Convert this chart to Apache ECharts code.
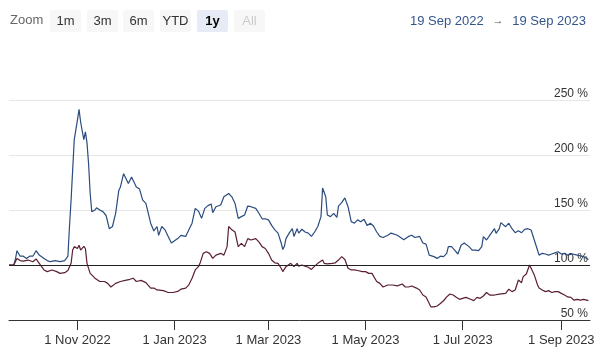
<!DOCTYPE html>
<html>
<head>
<meta charset="utf-8">
<script src="https://cdn.jsdelivr.net/npm/echarts@6/dist/echarts.min.js"></script>
<style>
html,body{margin:0;padding:0;background:#fff;}
#chart{width:600px;height:359px;}
</style>
</head>
<body>
<div id="chart"></div>
<script>
// ---- data (day offsets from 19 Sep 2022, values in % of start) ----
var startDate = Date.UTC(2022, 8, 19);
var endDate = Date.UTC(2023, 8, 19);

var blueDays = [0,3,4,5,7,9,11,13,15,17,19,22,24,26,29,32,35,37,38,39,41,42,43,44,45,47,48,49,50,51,52,54,55,57,59,61,63,65,67,69,70,72,75,77,78,80,82,84,86,89,91,93,94,96,98,100,102,104,106,108,111,113,115,117,119,121,123,125,127,128,130,133,135,136,138,140,142,144,146,148,150,152,155,157,159,161,163,165,167,169,171,172,173,174,176,178,179,181,182,184,186,188,190,192,194,196,197,199,200,202,204,206,207,209,211,213,215,217,219,221,223,225,227,229,231,233,235,238,240,244,246,248,251,253,255,258,260,262,264,267,269,271,273,275,276,278,280,282,284,286,289,291,293,295,297,298,300,302,303,305,306,308,309,312,314,316,318,320,322,324,326,328,330,332,333,335,337,339,341,343,345,347,349,351,354,357,361,364];
var blueVals = [100,100,105,113,108,108,106,108,108,113,109,106,104,103,104,103,104,108,135,159,214,214,232,241.5,230,214,221,211,192,165,148.5,150,152,150,148.5,145,133,135,147,168,171,183,174,180,180,171,169,159,156,138,131,135,127,135,132,126,120,122,124,127,126,132,138,151.5,149,142.4,151.5,154,155.5,147.6,153,154.5,162,160.6,165,162,156,142.4,144,145.5,153.6,153,151.5,147,142,142,141,136,132,129,120,114,117,124,129,133,126,133,129,132.5,130,129,126,130,135,144,170,162,145.5,144,147,143.3,153.6,156.7,161,153,139.4,138,141,139.4,141.5,136,138,135.5,130,126,125,127,129,127,125,123,126,127,125,126,120,119,109,107.6,106,108,107.6,110.6,116.7,116.7,113.6,110,118,120,116.7,113.6,113.6,113,116.7,125.8,122.7,127,125.8,133,128.8,133,138.5,134.8,138,133,129.4,131.2,129.4,132.4,133,131.8,122.7,113.6,109,110.6,110,109,110,111,112,110,110.6,109,110,109,107.6,105];

var redDays = [0,3,5,7,9,12,15,17,19,22,24,27,30,32,35,37,39,40,41,43,44,45,47,48,49,51,52,54,57,60,62,64,67,70,73,76,78,80,83,86,89,91,93,97,100,103,106,108,111,113,115,117,119,120,122,124,126,128,130,133,135,137,138,140,142,144,146,148,150,152,155,157,159,161,163,165,167,169,171,172,174,177,179,181,182,184,186,188,190,192,194,197,198,200,203,205,207,209,211,213,215,217,219,222,224,226,228,231,233,235,238,241,244,247,249,251,253,256,258,260,262,265,267,269,271,273,275,277,279,281,283,285,287,290,292,294,296,298,300,302,305,308,312,314,316,318,320,321,322,323,325,327,328,329,330,332,333,335,337,339,341,343,345,347,349,351,353,355,357,359,361,364];
var redVals = [100,100,106,104,103.5,104.5,103,105.5,101.5,95.5,94,95.5,94,92.4,93,95,101.5,113.6,116.7,115,118,113.6,117,115,101.5,92.4,91,88,85,85,83.3,80,83.3,85,86,87,88,85,86,84,79,79,77.3,76.7,75,75,76,78,79,82,88,95.5,98.5,101.5,110.6,112,110.6,106,109,110.6,109,116.7,135,132,130,116.7,119.7,116.7,124,122.7,124,121,116.7,115,110.6,104.5,102,101.5,97,94,98.5,101.5,98.5,101.5,99,100,99,98,96,99,101.5,104.5,101.5,101,101.5,102,104.5,107.6,105,97,95.5,95.5,95,94,94,92.4,92.4,85,83.3,80,81.8,81.8,81,82.7,80,80,80.9,79,77.3,72.7,71,62,62,62.7,65,67.5,71,73.6,72.7,70.6,68.8,69.7,70.6,68.8,67.6,70.6,69.7,71.8,75,72.7,72.7,73.6,74.2,78,75.8,77.3,86.4,87.9,83.9,89.4,91.8,100,97,95.5,91,82,79,77.3,75.8,76.7,75,75.8,75.8,74.2,72.7,71,70.6,68,68.8,68,68.8,67.6];

var tickDates = [Date.UTC(2022,10,1), Date.UTC(2023,0,1), Date.UTC(2023,2,1), Date.UTC(2023,4,1), Date.UTC(2023,6,1), Date.UTC(2023,8,1)];
var yTicks = {min: 50, max: 250, step: 50};
var zoomButtons = ['1m', '3m', '6m', 'YTD', '1y', 'All'];
var rangeFrom = '19 Sep 2022';
var rangeTo = '19 Sep 2023';

var MONTHS = ['Jan','Feb','Mar','Apr','May','Jun','Jul','Aug','Sep','Oct','Nov','Dec'];
var DAY = 86400000;
function toPairs(days, vals) {
  return days.map(function (d, i) { return [startDate + d * DAY, vals[i]]; });
}

var FONT = '"Liberation Sans", Arial, sans-serif';
var graphics = [];
graphics.push({type: 'text', left: 10, top: 14, style: {text: 'Zoom', fill: '#666666', font: '13px ' + FONT}});
var btnX = [50, 87, 123, 160, 197, 234];
zoomButtons.forEach(function (b, i) {
  var sel = (b === '1y'), dis = (b === 'All');
  graphics.push({type: 'rect', shape: {x: btnX[i], y: 10, width: 31, height: 22, r: 2},
    style: {fill: sel ? '#e6ebf5' : '#f7f7f7'}});
  graphics.push({type: 'text', x: btnX[i] + 15.5, y: 21,
    style: {text: b, fill: dis ? '#cccccc' : (sel ? '#000000' : '#333333'),
      font: (sel ? 'bold ' : '') + '13px ' + FONT, align: 'center', verticalAlign: 'middle'}});
});
graphics.push({type: 'text', x: 410, y: 21, style: {text: rangeFrom, fill: '#34558c', font: '13px ' + FONT, align: 'left', verticalAlign: 'middle'}});
graphics.push({type: 'text', x: 498, y: 21, style: {text: '→', fill: '#555555', font: '11px ' + FONT, align: 'center', verticalAlign: 'middle'}});
graphics.push({type: 'text', x: 586, y: 21, style: {text: rangeTo, fill: '#34558c', font: '13px ' + FONT, align: 'right', verticalAlign: 'middle'}});

var chart = echarts.init(document.getElementById('chart'), null, {renderer: 'canvas'});
chart.setOption({
  animation: false,
  backgroundColor: '#ffffff',
  textStyle: {fontFamily: FONT},
  graphic: graphics,
  grid: {left: 9, right: 10, top: 100, bottom: 39, containLabel: false},
  xAxis: {
    type: 'value', min: startDate, max: endDate,
    axisLine: {show: true, lineStyle: {color: '#333333', width: 1}},
    axisTick: {show: true, length: 10, lineStyle: {color: '#333333'}, customValues: tickDates},
    axisLabel: {
      customValues: tickDates, color: '#333333', fontSize: 13, margin: 14, fontFamily: FONT,
      formatter: function (v) {
        var d = new Date(v);
        return d.getUTCDate() + ' ' + MONTHS[d.getUTCMonth()] + ' ' + d.getUTCFullYear();
      }
    },
    splitLine: {show: false}
  },
  yAxis: {
    type: 'value', position: 'right', min: yTicks.min, max: yTicks.max, interval: yTicks.step,
    axisLine: {show: false}, axisTick: {show: false},
    axisLabel: {inside: true, formatter: '{value} %', color: '#333333', fontSize: 12, margin: 2,
      verticalAlign: 'bottom', fontFamily: FONT},
    splitLine: {show: true, lineStyle: {color: '#e6e6e6', width: 1}}
  },
  series: [
    {
      type: 'line', name: 'A', data: toPairs(blueDays, blueVals), showSymbol: false, symbol: 'none',
      lineStyle: {color: '#2b4c7e', width: 1.2}, itemStyle: {color: '#2b4c7e'}, z: 3
    },
    {
      type: 'line', name: 'B', data: toPairs(redDays, redVals), showSymbol: false, symbol: 'none',
      lineStyle: {color: '#5b1f33', width: 1.2}, itemStyle: {color: '#5b1f33'}, z: 3,
      markLine: {silent: true, symbol: ['none', 'none'], label: {show: false},
        lineStyle: {color: '#222222', width: 1.2, type: 'solid'},
        data: [{yAxis: 100}]}
    }
  ]
});
</script>
</body>
</html>
